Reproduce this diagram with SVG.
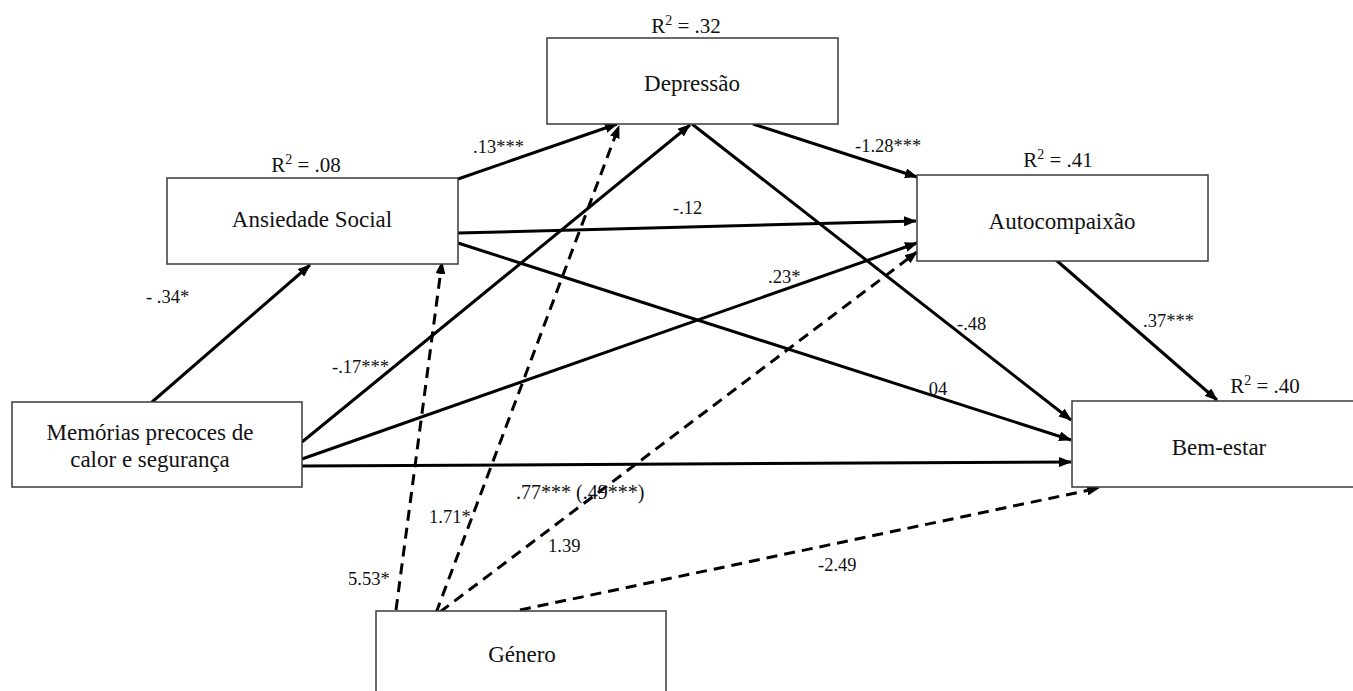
<svg xmlns="http://www.w3.org/2000/svg" width="1353" height="691" viewBox="0 0 1353 691" font-family="'Liberation Serif', 'Times New Roman', 'DejaVu Serif', serif">
<defs>
<style>
text{font-family:'Liberation Serif','Times New Roman','DejaVu Serif',serif}
.box{fill:#fff;stroke:#3a3a3a;stroke-width:1.5}
.nt{font-size:23px;fill:#111;text-anchor:middle}
.r2{font-size:21px;fill:#111;text-anchor:middle}
.lb{font-size:18.5px;fill:#111}
.s{stroke:#000;stroke-width:3;fill:none;marker-end:url(#ah)}
.d{stroke:#000;stroke-width:3;fill:none;stroke-dasharray:11 7;marker-end:url(#ah)}
</style>
<marker id="ah" markerUnits="userSpaceOnUse" markerWidth="13" markerHeight="10" refX="12" refY="5" orient="auto">
<path d="M0,0 L13,5 L0,10 z" fill="#000"/>
</marker>
</defs>
<rect width="1353" height="691" fill="#fff"/>

<g id="connectors">
<line class="s" x1="152" y1="402" x2="310" y2="265"/>
<line class="s" x1="458" y1="179" x2="617" y2="124"/>
<line class="s" x1="753" y1="124" x2="917" y2="177"/>
<line class="s" x1="458" y1="233" x2="916" y2="221"/>
<line class="s" x1="458" y1="243" x2="1071" y2="440"/>
<line class="s" x1="692" y1="124" x2="1071" y2="420"/>
<line class="s" x1="302" y1="442" x2="690" y2="125"/>
<line class="s" x1="302" y1="459" x2="917" y2="243"/>
<line class="s" x1="302" y1="466" x2="1071" y2="462"/>
<line class="s" x1="1056" y1="260" x2="1217" y2="400"/>
<line class="d" x1="396" y1="610" x2="442" y2="262"/>
<line class="d" x1="436" y1="613" x2="619" y2="126"/>
<line class="d" x1="440" y1="612" x2="917" y2="252"/>
<line class="d" x1="520" y1="610" x2="1099" y2="488"/>
<text class="lb" x="146" y="303">- .34*</text>
<text class="lb" x="473" y="153">.13***</text>
<text class="lb" x="855" y="152">-1.28***</text>
<text class="lb" x="673" y="214">-.12</text>
<text class="lb" x="768" y="283">.23*</text>
<text class="lb" x="957" y="330">-.48</text>
<text class="lb" x="924" y="395">.04</text>
<text class="lb" x="332" y="373">-.17***</text>
<text class="lb" x="516" y="499" style="font-size:20px">.77*** (.49***)</text>
<text class="lb" x="1143" y="327">.37***</text>
<text class="lb" x="348" y="585">5.53*</text>
<text class="lb" x="429" y="523">1.71*</text>
<text class="lb" x="548" y="552">1.39</text>
<text class="lb" x="818" y="571">-2.49</text>
</g>

<g id="depressao">
<rect class="box" x="547" y="38" width="291" height="86"/>
<text class="nt" x="692" y="91">Depressão</text>
<text class="r2" x="686" y="33">R<tspan font-size="14" dy="-8">2</tspan><tspan dy="8"> = .32</tspan></text>
</g>
<g id="ansiedade">
<rect class="box" x="167" y="178" width="291" height="86"/>
<text class="nt" x="312" y="227">Ansiedade Social</text>
<text class="r2" x="306" y="172">R<tspan font-size="14" dy="-8">2</tspan><tspan dy="8"> = .08</tspan></text>
</g>
<g id="autocompaixao">
<rect class="box" x="917" y="175" width="291" height="86"/>
<text class="nt" x="1062" y="229">Autocompaixão</text>
<text class="r2" x="1058" y="167">R<tspan font-size="14" dy="-8">2</tspan><tspan dy="8"> = .41</tspan></text>
</g>
<g id="memorias">
<rect class="box" x="12" y="402" width="290" height="85"/>
<text class="nt" x="150" y="440">Memórias precoces de</text>
<text class="nt" x="150" y="467">calor e segurança</text>
</g>
<g id="bemestar">
<rect class="box" x="1072" y="401" width="295" height="86"/>
<text class="nt" x="1219" y="455">Bem-estar</text>
<text class="r2" x="1265" y="393">R<tspan font-size="14" dy="-8">2</tspan><tspan dy="8"> = .40</tspan></text>
</g>
<g id="genero">
<rect class="box" x="376" y="611" width="290" height="90"/>
<text class="nt" x="522" y="662">Género</text>
</g>
</svg>
